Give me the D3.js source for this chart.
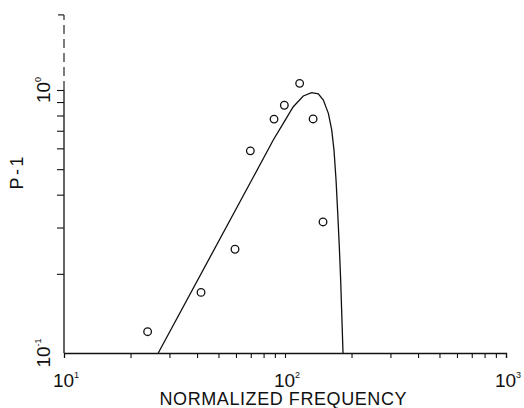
<!DOCTYPE html>
<html>
<head>
<meta charset="utf-8">
<script src="https://d3js.org/d3.v7.min.js"></script>
<style>
  body { margin: 0; background: #fff; }
  svg { display: block; }
  .lbl { font-family: "Liberation Sans Narrow", "Liberation Sans", sans-serif; fill: #111; }
</style>
</head>
<body>
<svg id="chart" width="524" height="408"></svg>
<script>
// measured points (open circles)
const obsFreq = [23.9, 41.7, 59.4, 69.7, 89.2, 99.3, 116.5, 134, 148.6];
const obsP1   = [0.1205, 0.170, 0.248, 0.587, 0.775, 0.875, 1.06, 0.776, 0.315];

// theory curve
const curveFreq = [26.7, 70.7, 88.5, 98.2, 109.0, 121.0, 132.1, 141.5, 149.1, 157.1, 162.7, 166.6, 170.2, 173.2, 176.1, 178.6, 180.6, 183.0];
const curveP1   = [0.1, 0.4547, 0.6455, 0.747, 0.864, 0.949, 0.977, 0.966, 0.916, 0.815, 0.705, 0.591, 0.455, 0.3407, 0.2536, 0.1895, 0.142, 0.1];

const xMinor = [20, 30, 40, 50, 60, 70, 80, 90, 100, 200, 300, 400, 500, 600, 700, 800, 900, 1000];
const yMinor = [0.2, 0.3, 0.4, 0.5, 0.6, 0.7, 0.8, 0.9, 1];
const xLabels = [[10, "1"], [100, "2"], [1000, "3"]];
const yLabels = [[0.1, "-1"], [1, "0"]];
const yTop = 1.93;

const svg = d3.select("#chart");
const x = d3.scaleLog().domain([10, 1000]).range([64, 506]);
const y = d3.scaleLog().domain([0.1, 1]).range([353, 90]);
const ink = "#111";

// x axis
const xAxis = d3.axisBottom(x).tickValues(xMinor).tickSize(5).tickFormat("");
const gx = svg.append("g").attr("transform", `translate(0,${y(0.1)})`).call(xAxis);
gx.select(".domain").attr("stroke", ink).attr("stroke-width", 1.3);
gx.selectAll(".tick line").attr("stroke", ink).attr("stroke-width", 1.1);

// y axis (solid up to 10^0, broken above)
const yAxis = d3.axisLeft(y).tickValues(yMinor).tickSize(7).tickFormat("");
const gy = svg.append("g").attr("transform", `translate(${x(10)},0)`).call(yAxis);
gy.select(".domain").remove();
gy.selectAll(".tick line").attr("stroke", ink).attr("stroke-width", 1.1);
gy.append("line").attr("x1", 0).attr("x2", 0).attr("y1", y(0.1)).attr("y2", y(1))
  .attr("stroke", ink).attr("stroke-width", 1.3);
gy.append("line").attr("x1", 0).attr("x2", 0).attr("y1", y(1)).attr("y2", y(yTop))
  .attr("stroke", ink).attr("stroke-width", 1.1).attr("stroke-dasharray", "9,5");
gy.append("line").attr("x1", -6).attr("x2", 0).attr("y1", y(yTop)).attr("y2", y(yTop))
  .attr("stroke", ink).attr("stroke-width", 1.1);

// theory curve
const line = d3.line().x(d => x(d[0])).y(d => y(d[1]));
svg.append("path")
  .datum(d3.zip(curveFreq, curveP1))
  .attr("d", line)
  .attr("fill", "none")
  .attr("stroke", ink)
  .attr("stroke-width", 1.3);

// data circles
svg.selectAll("circle.obs")
  .data(d3.zip(obsFreq, obsP1))
  .join("circle")
  .attr("class", "obs")
  .attr("cx", d => x(d[0]))
  .attr("cy", d => y(d[1]))
  .attr("r", 3.8)
  .attr("fill", "none")
  .attr("stroke", ink)
  .attr("stroke-width", 1.3);

// x tick labels 10^n
xLabels.forEach(([v, e]) => {
  const t = svg.append("text").attr("class", "lbl")
    .attr("x", x(v) + 2).attr("y", 387)
    .attr("text-anchor", "middle")
    .style("font-size", "19px");
  t.append("tspan").text("10");
  t.append("tspan").text(e).attr("dy", -9).style("font-size", "9px");
});

// y tick labels, rotated
yLabels.forEach(([v, e]) => {
  const t = svg.append("text").attr("class", "lbl")
    .attr("transform", `translate(50,${y(v)}) rotate(-90)`)
    .attr("text-anchor", "middle")
    .style("font-size", "19px");
  t.append("tspan").text("10");
  t.append("tspan").text(e).attr("dy", -9).style("font-size", "9px");
});

// axis titles
svg.append("text").attr("class", "lbl")
  .attr("x", 283).attr("y", 405)
  .attr("text-anchor", "middle")
  .attr("textLength", 247).attr("lengthAdjust", "spacing")
  .style("font-family", "Liberation Sans, sans-serif")
  .style("font-size", "18px")
  .text("NORMALIZED FREQUENCY");

svg.append("text").attr("class", "lbl")
  .attr("transform", "translate(23,173) rotate(-90)")
  .attr("text-anchor", "middle")
  .attr("textLength", 33).attr("lengthAdjust", "spacing")
  .style("font-family", "Liberation Sans, sans-serif")
  .style("font-size", "18px")
  .text("P-1");
</script>
</body>
</html>
